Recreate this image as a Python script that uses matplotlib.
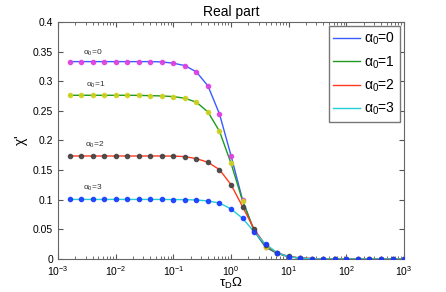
import numpy as np
import matplotlib
matplotlib.use("Agg")
import matplotlib.pyplot as plt

plt.rcParams['font.family'] = ['Liberation Sans', 'DejaVu Sans']
plt.rcParams['mathtext.fontset'] = 'custom'
plt.rcParams['mathtext.rm'] = 'Liberation Sans'
plt.rcParams['mathtext.it'] = 'Liberation Sans'

# log10 of tau_D * Omega
log_omega = [-2.8, -2.6, -2.4, -2.2, -2.0, -1.8, -1.6, -1.4, -1.2, -1.0,
             -0.8, -0.6, -0.4, -0.2, 0.0, 0.2, 0.4, 0.6, 0.8, 1.0,
             1.2, 1.4, 1.6, 1.8, 2.0, 2.2, 2.4, 2.6, 2.8, 3.0]
omega = [10 ** v for v in log_omega]

# chi' for each alpha_0
chi_a0 = [0.333, 0.333, 0.333, 0.333, 0.333, 0.333, 0.333, 0.333, 0.3325, 0.3303,
          0.3263, 0.3156, 0.292, 0.2447, 0.1744, 0.0996, 0.047, 0.0198, 0.0095, 0.0038,
          0.0015, 0.0006, 0.0002, 0.0001, 0.0, 0.0, 0.0, 0.0, 0.0, 0.0]
chi_a1 = [0.2762, 0.2762, 0.2762, 0.2762, 0.2762, 0.2762, 0.2760, 0.2756, 0.2751, 0.274,
          0.2712, 0.2645, 0.2481, 0.2155, 0.1615, 0.098, 0.0485, 0.021, 0.0095, 0.004,
          0.0016, 0.0006, 0.0002, 0.0001, 0.0, 0.0, 0.0, 0.0, 0.0, 0.0]
chi_a2 = [0.1738, 0.1738, 0.1738, 0.1738, 0.1738, 0.1738, 0.1738, 0.1738, 0.1738, 0.1736,
          0.1727, 0.1693, 0.1632, 0.1508, 0.1254, 0.0883, 0.0506, 0.0231, 0.0105, 0.0043,
          0.0017, 0.0006, 0.0002, 0.0001, 0.0, 0.0, 0.0, 0.0, 0.0, 0.0]
chi_a3 = [0.1005, 0.1005, 0.1005, 0.1005, 0.1005, 0.1005, 0.1005, 0.1005, 0.1005, 0.1003,
          0.1001, 0.0996, 0.0979, 0.0945, 0.0844, 0.0687, 0.046, 0.0248, 0.0107, 0.0039,
          0.0012, 0.0004, 0.0001, 0.0, 0.0, 0.0, 0.0, 0.0, 0.0, 0.0]

series = [chi_a0, chi_a1, chi_a2, chi_a3]
labels = [r'$\alpha_0$=0', r'$\alpha_0$=1', r'$\alpha_0$=2', r'$\alpha_0$=3']
line_colors = ['#3a5cff', '#1f9a1f', '#ff3a1f', '#22cfd6']
marker_colors = ['#e040e0', '#d0d020', '#444444', '#1a3cff']
# annotation positions (log10 x, y)
ann_x = [-2.40, -2.34, -2.36, -2.40]
ann_y = [0.348, 0.294, 0.193, 0.120]

fig = plt.figure(figsize=(4.46, 2.92), dpi=100)
ax = fig.add_axes([0.130, 0.113, 0.776, 0.812])

for s, lab, lc, mc in zip(series, labels, line_colors, marker_colors):
    ax.plot(omega, s, color=lc, lw=1.0, label=lab, zorder=2)
    ax.plot(omega, s, ls='none', marker='o', ms=3.0, mfc=mc, mec=mc,
            alpha=0.9, zorder=3)

for lab, xx, yy in zip(labels, ann_x, ann_y):
    ax.text(10 ** xx, yy, lab, fontsize=6, ha='center', va='center', color='#333333')

ax.set_xscale('log')
ax.set_xlim(1e-3, 1e3)
ax.set_ylim(0, 0.4)
ax.set_yticks([0, 0.05, 0.1, 0.15, 0.2, 0.25, 0.3, 0.35, 0.4])
ax.set_yticklabels(['0', '0.05', '0.1', '0.15', '0.2', '0.25', '0.3', '0.35', '0.4'])
ax.set_xticks([1e-3, 1e-2, 1e-1, 1e0, 1e1, 1e2, 1e3])
ax.tick_params(which='both', direction='in', top=True, right=True, labelsize=7.5,
               color='#555555')
ax.tick_params(which='major', length=3.5)
ax.tick_params(which='minor', length=2)
for sp in ax.spines.values():
    sp.set_color('#666666')
    sp.set_linewidth(0.8)

ax.set_title('Real part', fontsize=10, pad=4)
ax.set_xlabel(r'$\tau_D\Omega$', fontsize=9.5, labelpad=-1)
ax.set_ylabel(r"$\chi$'", fontsize=10, labelpad=2)

leg = ax.legend(loc='upper right', fontsize=10, fancybox=False, framealpha=1,
                edgecolor='#777777', handlelength=1.9, borderaxespad=0.3,
                labelspacing=0.5, handletextpad=0.3, borderpad=0.35)
leg.get_frame().set_linewidth(1.0)

fig.savefig('out.png', dpi=100)
